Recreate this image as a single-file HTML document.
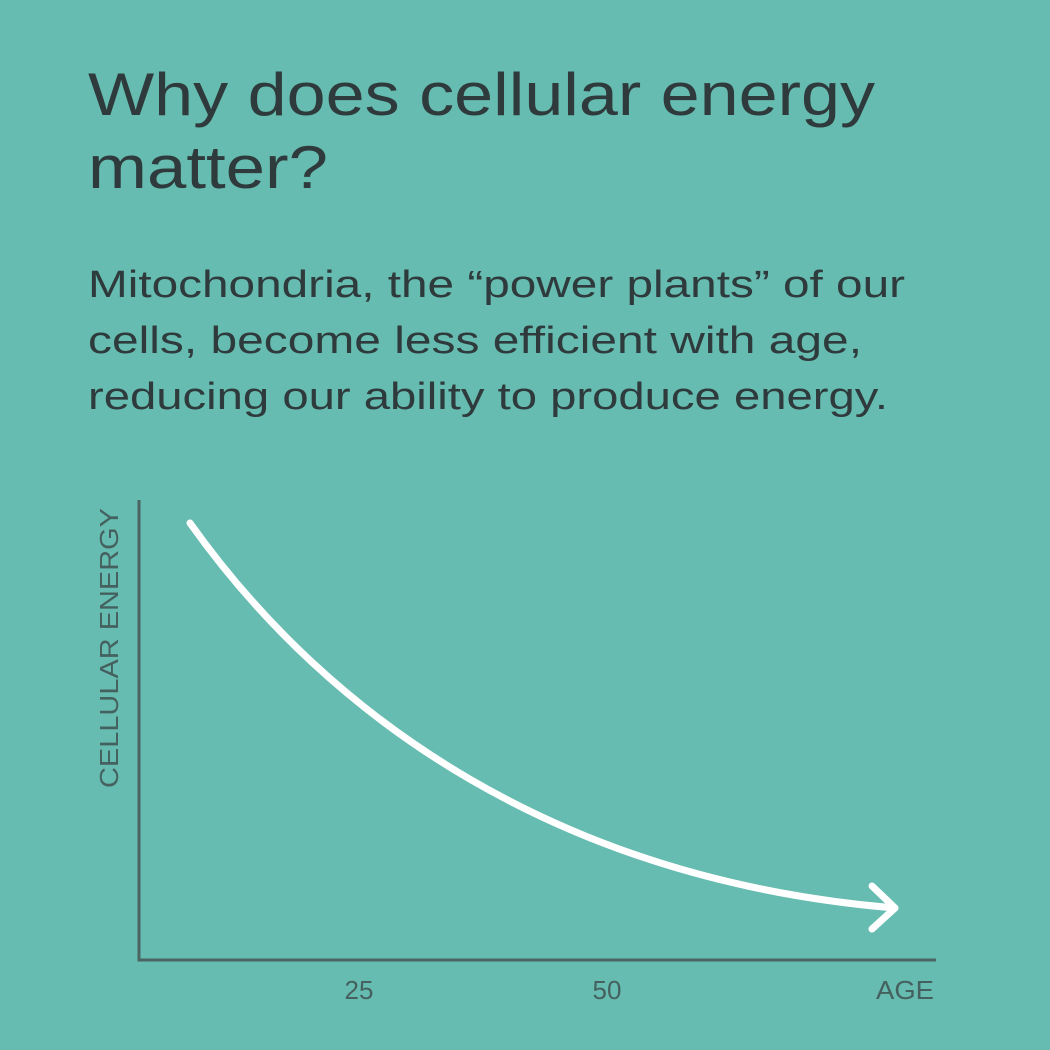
<!DOCTYPE html>
<html><head><meta charset="utf-8"><style>
html,body{margin:0;padding:0;background:#66bcb0;}
svg{display:block}
</style></head><body>
<svg width="1050" height="1050" viewBox="0 0 1050 1050" xmlns="http://www.w3.org/2000/svg">
<rect width="1050" height="1050" fill="#66bcb0"/>
<g font-family="Liberation Sans, sans-serif" fill="#2f3a3c">
<text x="88" y="115" font-size="60" textLength="787" lengthAdjust="spacingAndGlyphs">Why does cellular energy</text>
<text x="88" y="188" font-size="60" textLength="240" lengthAdjust="spacingAndGlyphs">matter?</text>
<text x="88" y="297" font-size="38" textLength="817" lengthAdjust="spacingAndGlyphs">Mitochondria, the “power plants” of our</text>
<text x="88" y="353" font-size="38" textLength="774" lengthAdjust="spacingAndGlyphs">cells, become less efficient with age,</text>
<text x="88" y="409" font-size="38" textLength="800" lengthAdjust="spacingAndGlyphs">reducing our ability to produce energy.</text>
</g>
<g font-family="Liberation Sans, sans-serif" fill="#45615f" font-size="26">
<text x="359" y="999" text-anchor="middle">25</text>
<text x="607" y="999" text-anchor="middle">50</text>
<text x="876" y="999" textLength="58" lengthAdjust="spacingAndGlyphs">AGE</text>
<text transform="translate(118,788) rotate(-90)" x="0" y="0" textLength="280" lengthAdjust="spacingAndGlyphs">CELLULAR ENERGY</text>
</g>
<path d="M139,500 V960 H936" fill="none" stroke="#4a6462" stroke-width="3"/>
<path d="M190,523 C330,720 560,880 895,908" fill="none" stroke="#fff" stroke-width="7" stroke-linecap="round"/>
<path d="M872,886 L895,908 L872,929" fill="none" stroke="#fff" stroke-width="7" stroke-linecap="round" stroke-linejoin="round"/>
</svg>
</body></html>
